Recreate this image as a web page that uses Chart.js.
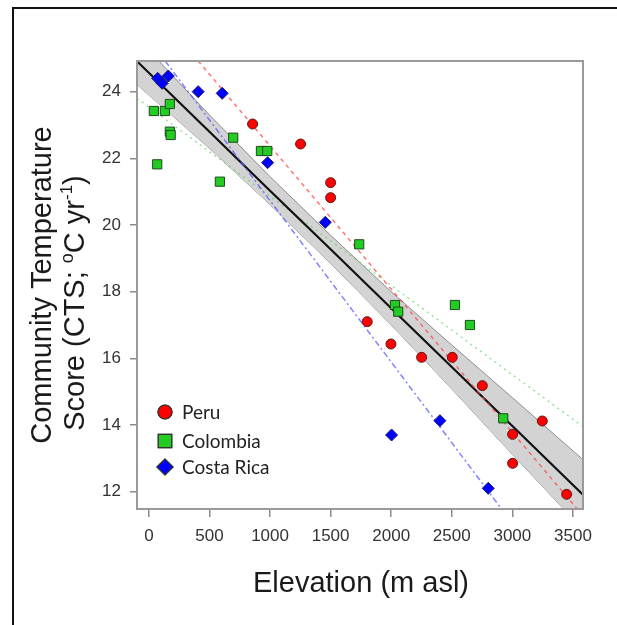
<!DOCTYPE html>
<html>
<head>
<meta charset="utf-8">
<script src="https://cdn.jsdelivr.net/npm/chart.js@4.4.1/dist/chart.umd.min.js"></script>
<style>
html, body { margin: 0; padding: 0; background: #fff; }
#wrap { position: relative; width: 617px; height: 625px; overflow: hidden; }
#frame { position: absolute; left: 12px; top: 7px; width: 700px; height: 700px; border-left: 2px solid #111; border-top: 2px solid #111; }
canvas { position: absolute; left: 0; top: 0; }
</style>
</head>
<body>
<div id="wrap">
  <div id="frame"></div>
  <canvas id="ctsChart" width="617" height="625"></canvas>
</div>
<script>
// Sites: elevation (m asl) and community temperature score
const peruElev = [856, 1252, 1500, 1500, 1802, 1998, 2251, 2504, 2752, 3002, 3002, 3247, 3448];
const peruCts = [23.03, 22.43, 21.27, 20.82, 17.10, 16.43, 16.03, 16.03, 15.18, 13.72, 12.85, 14.12, 11.92];

const colElev = [41, 132, 173, 173, 180, 69, 586, 696, 925, 977, 1736, 2031, 2058, 2526, 2650, 2925];
const colCts = [23.42, 23.42, 23.63, 22.80, 22.70, 21.82, 21.30, 22.62, 22.22, 22.22, 19.42, 17.60, 17.40, 17.60, 17.00, 14.20];

const crElev = [72, 110, 160, 407, 605, 980, 1456, 2003, 2402, 2801];
const crCts = [24.40, 24.25, 24.47, 24.00, 23.95, 21.87, 20.08, 13.70, 14.13, 12.10];

// overall fit and its confidence band
const fitElev = [-98, 500, 1000, 1500, 2000, 2500, 3000, 3583];
const fitCts = [24.91, 22.80, 21.03, 19.27, 17.50, 15.74, 13.97, 11.91];
const bandUpper = [25.62, 23.30, 21.45, 19.69, 18.00, 16.40, 14.82, 12.96];
const bandLower = [24.21, 22.30, 20.61, 18.85, 17.00, 15.08, 13.12, 10.86];

// per-country fits (end points)
const peruFitElev = [407, 3535];
const peruFitCts = [24.92, 11.48];
const colFitElev = [-98, 3583];
const colFitCts = [23.80, 13.95];
const crFitElev = [135, 2911];
const crFitCts = [24.92, 11.48];

const xTicks = [0, 500, 1000, 1500, 2000, 2500, 3000, 3500];
const yTicks = [12, 14, 16, 18, 20, 22, 24];

const legendLabels = ['Peru', 'Colombia', 'Costa Rica'];

const toXY = (xs, ys) => xs.map((x, i) => ({ x: x, y: ys[i] }));

const axisFont = "'Liberation Sans', Arial, sans-serif";

function drawRuns(ctx, runs, cx, baseY) {
    let total = 0;
    runs.forEach(r => { ctx.font = r[1] + 'px ' + axisFont; total += ctx.measureText(r[0]).width; });
    let x = cx - total / 2;
    runs.forEach(r => {
        ctx.font = r[1] + 'px ' + axisFont;
        ctx.fillText(r[0], x, baseY + r[2]);
        x += ctx.measureText(r[0]).width;
    });
}

// box, axis titles and legend
const decor = {
    id: 'decor',
    afterDraw(chart) {
        const ctx = chart.ctx;
        const a = chart.chartArea;
        ctx.save();
        ctx.strokeStyle = '#9a9a9a';
        ctx.lineWidth = 2;
        ctx.strokeRect(a.left, a.top, a.right - a.left, a.bottom - a.top);

        ctx.fillStyle = '#1a1a1a';
        ctx.textBaseline = 'alphabetic';
        ctx.textAlign = 'left';
        drawRuns(ctx, [['Elevation (m asl)', 29, 0]], 361, 592);

        ctx.save();
        ctx.translate(51, 285);
        ctx.rotate(-Math.PI / 2);
        drawRuns(ctx, [['Community Temperature', 29, 0]], 0, 0);
        ctx.restore();

        ctx.save();
        ctx.translate(84, 303);
        ctx.rotate(-Math.PI / 2);
        drawRuns(ctx, [['Score (CTS; ', 29, 0], ['o', 18, -11], ['C yr', 29, 0], ['-1', 17, -12], [')', 29, 0]], 0, 0);
        ctx.restore();

        // legend
        const rows = [412, 441, 467];
        const styles = ['circle', 'rect', 'rectRot'];
        const fills = ['#ff0000', '#22cc22', '#0000ff'];
        const sizes = [7, 9.5, 8];
        rows.forEach((ry, i) => {
            ctx.fillStyle = fills[i];
            ctx.strokeStyle = '#333';
            ctx.lineWidth = 1.2;
            Chart.helpers.drawPoint(ctx, { pointStyle: styles[i], radius: sizes[i], rotation: 0, borderWidth: 1.2 }, 165, ry);
            ctx.fill();
            ctx.stroke();
            ctx.fillStyle = '#222';
            ctx.font = "19px Lato, 'Open Sans', sans-serif";
            ctx.textBaseline = 'middle';
            ctx.fillText(legendLabels[i], 182, ry + 1);
        });
        ctx.restore();
    }
};

const tickFont = { family: axisFont, size: 17 };

new Chart(document.getElementById('ctsChart'), {
    type: 'scatter',
    data: {
        datasets: [
            {
                label: 'Peru', data: toXY(peruElev, peruCts), order: 0,
                pointStyle: 'circle', pointRadius: 5, backgroundColor: '#ff0000', borderColor: '#5a1a1a', borderWidth: 1
            },
            {
                label: 'Colombia', data: toXY(colElev, colCts), order: 0,
                pointStyle: 'rect', pointRadius: 6.5, backgroundColor: '#22cc22', borderColor: '#1f4a1f', borderWidth: 1
            },
            {
                label: 'Costa Rica', data: toXY(crElev, crCts), order: 0,
                pointStyle: 'rectRot', pointRadius: 6, backgroundColor: '#0000ff', borderColor: '#1a1a66', borderWidth: 1
            },
            {
                label: 'fit', data: toXY(fitElev, fitCts), order: 2, showLine: true, clip: 0,
                pointRadius: 0, borderColor: '#111', borderWidth: 2.2
            },
            {
                label: 'Peru fit', data: toXY(peruFitElev, peruFitCts), order: 1, showLine: true, clip: 0,
                pointRadius: 0, borderColor: 'rgba(255,70,70,0.75)', borderWidth: 1.5, borderDash: [4, 4]
            },
            {
                label: 'Colombia fit', data: toXY(colFitElev, colFitCts), order: 3, showLine: true, clip: 0,
                pointRadius: 0, borderColor: 'rgba(90,210,90,0.7)', borderWidth: 1.3, borderDash: [2, 4]
            },
            {
                label: 'Costa Rica fit', data: toXY(crFitElev, crFitCts), order: 1, showLine: true, clip: 0,
                pointRadius: 0, borderColor: 'rgba(90,90,255,0.75)', borderWidth: 1.5, borderDash: [6, 3, 2, 3]
            },
            {
                label: 'band upper', data: toXY(fitElev, bandUpper), order: 5, showLine: true, clip: 0,
                pointRadius: 0, borderColor: '#8c8c8c', borderWidth: 1,
                backgroundColor: '#d3d3d3', fill: { target: 8 }
            },
            {
                label: 'band lower', data: toXY(fitElev, bandLower), order: 5, showLine: true, clip: 0,
                pointRadius: 0, borderColor: '#8c8c8c', borderWidth: 1
            }
        ]
    },
    options: {
        responsive: false,
        animation: false,
        devicePixelRatio: 1,
        layout: { padding: { top: 61, right: 34, left: 0, bottom: 0 } },
        plugins: {
            legend: { display: false },
            tooltip: { enabled: false }
        },
        scales: {
            x: {
                type: 'linear',
                min: -98,
                max: 3583,
                afterBuildTicks: s => { s.ticks = xTicks.map(v => ({ value: v })); },
                afterFit: s => { s.height = 116; },
                border: { display: false },
                grid: { drawOnChartArea: false, tickLength: 8, color: '#8a8a8a', lineWidth: 1.5 },
                ticks: { font: tickFont, color: '#333', padding: 9, maxRotation: 0, autoSkip: false, callback: v => String(v) }
            },
            y: {
                type: 'linear',
                min: 11.48,
                max: 24.92,
                afterBuildTicks: s => { s.ticks = yTicks.map(v => ({ value: v })); },
                afterFit: s => { s.width = 137; },
                border: { display: false },
                grid: { drawOnChartArea: false, tickLength: 7, color: '#8a8a8a', lineWidth: 1.5 },
                ticks: { font: tickFont, color: '#333', padding: 9, autoSkip: false, callback: v => String(v) }
            }
        }
    },
    plugins: [decor]
});
</script>
</body>
</html>
